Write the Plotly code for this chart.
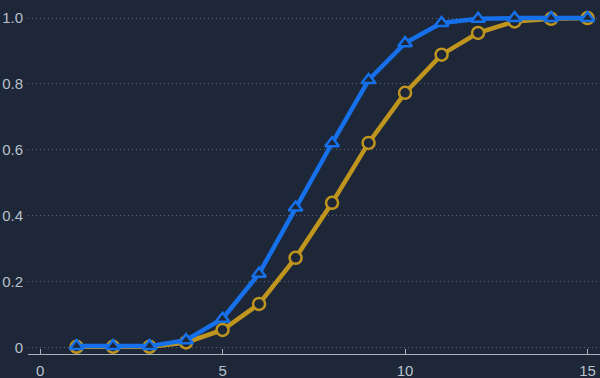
import plotly.graph_objects as go

x_vals = list(range(1, 16))
series_a = [0.004, 0.004, 0.004, 0.022, 0.087, 0.224, 0.425, 0.620, 0.812, 0.924, 0.985, 0.998, 1.0, 1.0, 1.0]
series_b = [0.002, 0.002, 0.002, 0.015, 0.053, 0.132, 0.272, 0.439, 0.621, 0.773, 0.889, 0.955, 0.99, 0.998, 1.0]
x_ticks = [0, 5, 10, 15]
y_ticks = [0, 0.2, 0.4, 0.6, 0.8, 1.0]
y_tick_text = ["0", "0.2", "0.4", "0.6", "0.8", "1.0"]

bg = "#1d2738"
blue = "#1670ea"
gold = "#bf951e"

fig = go.Figure()
fig.add_trace(go.Scatter(
    x=x_vals, y=series_b, mode="lines+markers",
    line=dict(color=gold, width=4.5),
    marker=dict(symbol="circle", size=12, color=bg, line=dict(color=gold, width=2.5)),
    cliponaxis=False, showlegend=False))
fig.add_trace(go.Scatter(
    x=x_vals, y=series_a, mode="lines+markers",
    line=dict(color=blue, width=4.5),
    marker=dict(symbol="triangle-up", size=12, color=bg, line=dict(color=blue, width=2.5)),
    cliponaxis=False, showlegend=False))

fig.update_layout(
    width=600, height=378,
    paper_bgcolor=bg, plot_bgcolor=bg,
    margin=dict(l=28, r=0, t=0, b=24, autoexpand=False),
    font=dict(family="Liberation Sans, Arial, sans-serif", size=15, color="#b9c0cb"),
    xaxis=dict(range=[-0.33, 15.34], tickvals=x_ticks, showgrid=False, zeroline=False,
               showline=True, linecolor="#aab2be", linewidth=1, automargin=False,
               ticks="inside", ticklen=5, tickcolor="#aab2be", ticklabelstandoff=3),
    yaxis=dict(range=[-0.02, 1.055], tickvals=y_ticks, ticktext=y_tick_text,
               showgrid=True, gridcolor="#5a6474", griddash="1px,3px", gridwidth=1,
               automargin=False,
               zeroline=False, showline=False, ticks="", ticklabelstandoff=4),
)

fig.write_html("out.html", config={"displayModeBar": False},
               post_script="document.body.style.margin='0';document.body.style.background='#1d2738';")
